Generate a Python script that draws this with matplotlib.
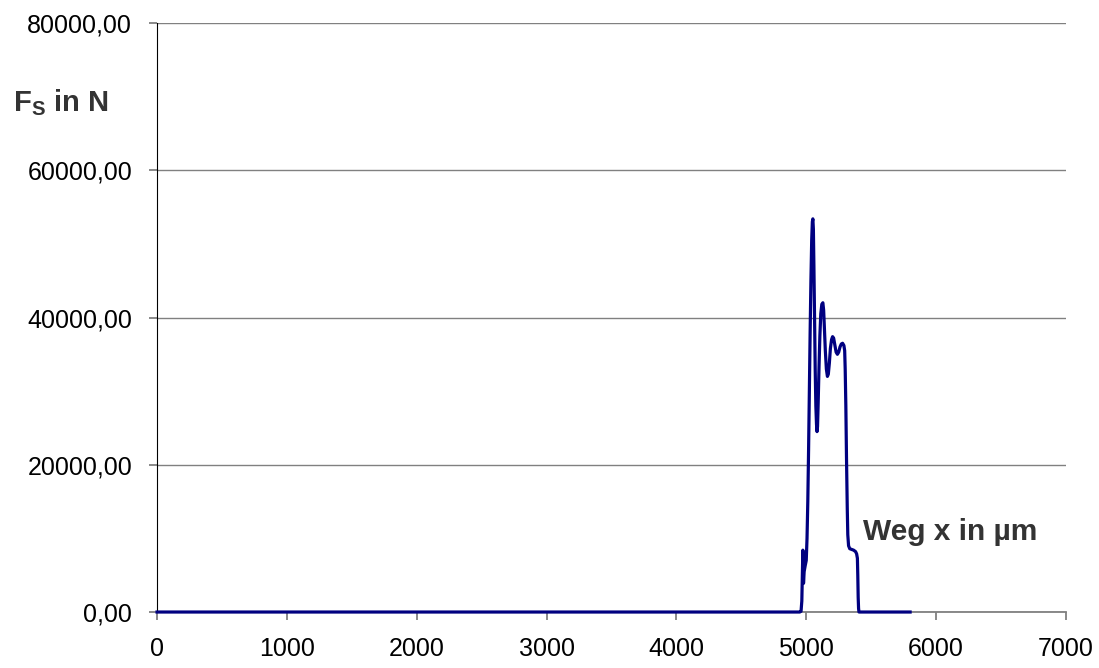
import matplotlib.pyplot as plt
from matplotlib.ticker import FuncFormatter, MultipleLocator

plt.rcParams['font.family'] = ['Liberation Sans', 'DejaVu Sans']

# Weg x in µm / Kraft F_S in N
weg = [0, 4950, 4960, 4966, 4970, 4974, 4977, 4979, 4984, 4992, 5000, 5006,
       5012, 5018, 5024, 5030, 5036, 5042, 5047, 5051, 5055, 5059, 5064,
       5069, 5074, 5079, 5083, 5087, 5092, 5098, 5105, 5112, 5120, 5128,
       5134, 5140, 5147, 5155, 5163, 5170, 5178, 5186, 5195, 5203, 5211,
       5220, 5230, 5240, 5250, 5260, 5270, 5280, 5290, 5296, 5300, 5305,
       5310, 5316, 5320, 5326, 5335, 5350, 5365, 5380, 5388, 5394, 5397,
       5400, 5403, 5406, 5800]
kraft = [0, 0, 100, 1500, 5000, 8400, 6000, 3900, 5500, 6300, 7000, 10000,
         15000, 22000, 30000, 38000, 45000, 50500, 53000, 53400, 52000, 47000, 40000,
         33000, 28000, 25500, 24500, 25200, 28500, 33000, 37500, 40500, 41800, 42000,
         41000, 38500, 35500, 33000, 32000, 32300, 33800, 35800, 37000, 37400, 37200,
         36300, 35300, 35000, 35300, 36000, 36400, 36500, 36200, 35500, 33000, 28000,
         21000, 14000, 10500, 9000, 8600, 8500, 8400, 8200, 7900, 7300, 5000,
         2000, 500, 0, 0]

fig = plt.figure(figsize=(10.99, 6.68), dpi=100)
ax = fig.add_axes([0.1429, 0.0838, 0.827, 0.8818])

ax.plot(weg, kraft, color='#000080', linewidth=2.3, solid_joinstyle='round',
        clip_on=False, zorder=5)

ax.set_xlim(0, 7000)
ax.set_ylim(0, 80000)
ax.xaxis.set_major_locator(MultipleLocator(1000))
ax.yaxis.set_major_locator(MultipleLocator(20000))
ax.yaxis.set_major_formatter(FuncFormatter(lambda v, p: f'{v:.2f}'.replace('.', ',')))

ax.grid(axis='y', color='#808080', linewidth=1)
ax.set_axisbelow(True)
for s in ['top', 'right']:
    ax.spines[s].set_visible(False)
ax.spines['left'].set_color('black')
ax.spines['bottom'].set_color('#808080')
ax.spines['bottom'].set_linewidth(1.3)
ax.tick_params(axis='both', colors='#808080', labelcolor='black', labelsize=18, length=6, width=1.3)
ax.tick_params(axis='x', pad=12)
ax.tick_params(axis='y', pad=12)

fig.text(0.012, 0.846, r'F$_\mathregular{S}$ in N', fontsize=21, fontweight='bold',
         color='#333333', va='center', ha='left')
fig.text(0.785, 0.203, 'Weg x in µm', fontsize=21.5, fontweight='bold',
         color='#333333', va='center', ha='left')

fig.savefig('out.png', dpi=100)
